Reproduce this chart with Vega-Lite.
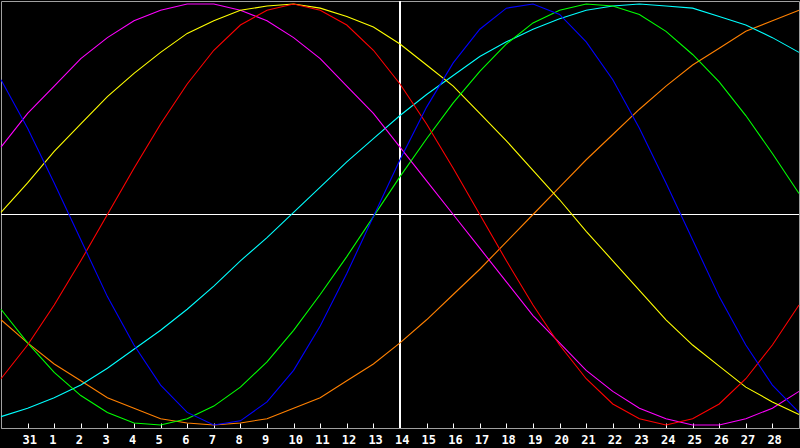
{
  "$schema": "https://vega.github.io/schema/vega-lite/v6.json",
  "width": 798,
  "height": 427,
  "autosize": {"type": "none"},
  "padding": {"left": 1, "top": 1, "right": 1, "bottom": 20},
  "background": "#000000",
  "config": {
    "view": {"stroke": "#a0a0a0", "strokeWidth": 1, "fill": "#000000"}
  },
  "data": {
    "values": [
      {"i": 0, "red": -0.78, "green": -0.45, "blue": 0.64, "yellow": 0.01, "magenta": 0.32, "cyan": -0.96, "orange": -0.50},
      {"i": 1, "red": -0.62, "green": -0.61, "blue": 0.41, "yellow": 0.15, "magenta": 0.48, "cyan": -0.92, "orange": -0.61},
      {"i": 2, "red": -0.43, "green": -0.75, "blue": 0.15, "yellow": 0.30, "magenta": 0.61, "cyan": -0.87, "orange": -0.71},
      {"i": 3, "red": -0.22, "green": -0.86, "blue": -0.12, "yellow": 0.43, "magenta": 0.74, "cyan": -0.81, "orange": -0.79},
      {"i": 4, "red": 0.0, "green": -0.94, "blue": -0.39, "yellow": 0.56, "magenta": 0.84, "cyan": -0.73, "orange": -0.87},
      {"i": 5, "red": 0.22, "green": -0.99, "blue": -0.62, "yellow": 0.67, "magenta": 0.92, "cyan": -0.64, "orange": -0.92},
      {"i": 6, "red": 0.43, "green": -1.0, "blue": -0.81, "yellow": 0.77, "magenta": 0.97, "cyan": -0.55, "orange": -0.97},
      {"i": 7, "red": 0.62, "green": -0.97, "blue": -0.94, "yellow": 0.86, "magenta": 1.0, "cyan": -0.45, "orange": -0.99},
      {"i": 8, "red": 0.78, "green": -0.91, "blue": -1.0, "yellow": 0.92, "magenta": 1.0, "cyan": -0.34, "orange": -1.0},
      {"i": 9, "red": 0.90, "green": -0.82, "blue": -0.98, "yellow": 0.97, "magenta": 0.97, "cyan": -0.22, "orange": -0.99},
      {"i": 10, "red": 0.97, "green": -0.70, "blue": -0.89, "yellow": 0.99, "magenta": 0.92, "cyan": -0.11, "orange": -0.97},
      {"i": 11, "red": 1.0, "green": -0.55, "blue": -0.74, "yellow": 1.0, "magenta": 0.84, "cyan": 0.01, "orange": -0.92},
      {"i": 12, "red": 0.97, "green": -0.38, "blue": -0.53, "yellow": 0.98, "magenta": 0.74, "cyan": 0.13, "orange": -0.87},
      {"i": 13, "red": 0.90, "green": -0.20, "blue": -0.28, "yellow": 0.94, "magenta": 0.61, "cyan": 0.25, "orange": -0.79},
      {"i": 14, "red": 0.78, "green": -0.01, "blue": -0.01, "yellow": 0.89, "magenta": 0.48, "cyan": 0.36, "orange": -0.71},
      {"i": 15, "red": 0.62, "green": 0.18, "blue": 0.26, "yellow": 0.81, "magenta": 0.32, "cyan": 0.47, "orange": -0.61},
      {"i": 16, "red": 0.43, "green": 0.36, "blue": 0.51, "yellow": 0.71, "magenta": 0.16, "cyan": 0.57, "orange": -0.50},
      {"i": 17, "red": 0.22, "green": 0.53, "blue": 0.72, "yellow": 0.61, "magenta": 0.0, "cyan": 0.66, "orange": -0.38},
      {"i": 18, "red": 0.0, "green": 0.68, "blue": 0.88, "yellow": 0.48, "magenta": -0.16, "cyan": 0.75, "orange": -0.26},
      {"i": 19, "red": -0.22, "green": 0.81, "blue": 0.98, "yellow": 0.35, "magenta": -0.32, "cyan": 0.82, "orange": -0.13},
      {"i": 20, "red": -0.43, "green": 0.91, "blue": 1.0, "yellow": 0.21, "magenta": -0.48, "cyan": 0.88, "orange": 0.0},
      {"i": 21, "red": -0.62, "green": 0.97, "blue": 0.95, "yellow": 0.07, "magenta": -0.61, "cyan": 0.93, "orange": 0.13},
      {"i": 22, "red": -0.78, "green": 1.0, "blue": 0.82, "yellow": -0.08, "magenta": -0.74, "cyan": 0.97, "orange": 0.26},
      {"i": 23, "red": -0.90, "green": 0.99, "blue": 0.64, "yellow": -0.22, "magenta": -0.84, "cyan": 0.99, "orange": 0.38},
      {"i": 24, "red": -0.97, "green": 0.95, "blue": 0.41, "yellow": -0.36, "magenta": -0.92, "cyan": 1.0, "orange": 0.50},
      {"i": 25, "red": -1.0, "green": 0.87, "blue": 0.15, "yellow": -0.50, "magenta": -0.97, "cyan": 0.99, "orange": 0.61},
      {"i": 26, "red": -0.97, "green": 0.76, "blue": -0.12, "yellow": -0.62, "magenta": -1.0, "cyan": 0.98, "orange": 0.71},
      {"i": 27, "red": -0.90, "green": 0.63, "blue": -0.39, "yellow": -0.72, "magenta": -1.0, "cyan": 0.94, "orange": 0.79},
      {"i": 28, "red": -0.78, "green": 0.47, "blue": -0.62, "yellow": -0.82, "magenta": -0.97, "cyan": 0.90, "orange": 0.87},
      {"i": 29, "red": -0.62, "green": 0.29, "blue": -0.81, "yellow": -0.89, "magenta": -0.92, "cyan": 0.84, "orange": 0.92},
      {"i": 30, "red": -0.43, "green": 0.10, "blue": -0.94, "yellow": -0.95, "magenta": -0.84, "cyan": 0.77, "orange": 0.97}
    ]
  },
  "encoding": {
    "x": {
      "field": "i",
      "type": "quantitative",
      "scale": {"domain": [0, 30], "nice": false, "zero": false},
      "axis": {
        "title": null,
        "values": [1, 2, 3, 4, 5, 6, 7, 8, 9, 10, 11, 12, 13, 14, 15, 16, 17, 18, 19, 20, 21, 22, 23, 24, 25, 26, 27, 28, 29],
        "labelExpr": "datum.value == 1 ? '31' : '' + (datum.value - 1)",
        "grid": false,
        "domain": true,
        "domainColor": "#a0a0a0",
        "ticks": true,
        "tickColor": "#ffffff",
        "tickSize": -5,
        "labelColor": "#ffffff",
        "labelFont": "DejaVu Sans Mono",
        "labelFontWeight": "bold",
        "labelFontSize": 12,
        "labelAlign": "left",
        "labelOffset": -5.5,
        "labelPadding": 11,
        "labelOverlap": false,
        "labelFlush": false
      }
    },
    "y": {
      "type": "quantitative",
      "scale": {"domain": [-1.014, 1.014], "nice": false, "zero": false},
      "axis": null
    }
  },
  "layer": [
    {
      "mark": {"type": "rule", "color": "#ffffff", "strokeWidth": 1},
      "encoding": {"y": {"datum": 0}, "x": null}
    },
    {
      "mark": {"type": "rule", "color": "#ffffff", "strokeWidth": 1},
      "encoding": {"x": {"datum": 15}, "y": null}
    },
    {
      "transform": [
        {"fold": ["orange", "cyan", "magenta", "yellow", "green", "red", "blue"], "as": ["series", "v"]}
      ],
      "mark": {"type": "line", "strokeWidth": 1.1},
      "encoding": {
        "y": {"field": "v", "type": "quantitative"},
        "color": {
          "field": "series",
          "type": "nominal",
          "scale": {
            "domain": ["red", "green", "blue", "yellow", "magenta", "cyan", "orange"],
            "range": ["#ff0000", "#00ff00", "#0000ff", "#ffff00", "#ff00ff", "#00ffff", "#ff8000"]
          },
          "legend": null
        },
        "detail": {"field": "series"}
      }
    }
  ]
}
